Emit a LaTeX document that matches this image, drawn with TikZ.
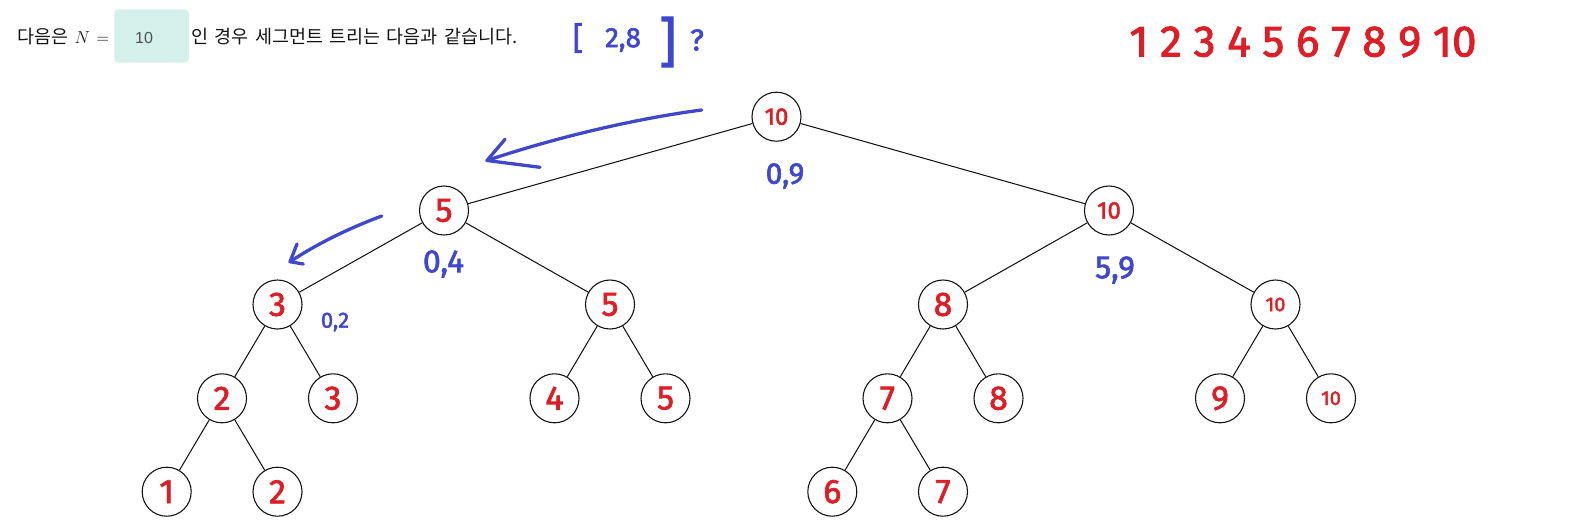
\documentclass[tikz,border=0pt]{standalone}
\usepackage{fontspec}
\newfontfamily\krfont[WordSpace=1.5]{Noto Sans CJK KR}
\newfontfamily\handfont[FakeBold=2]{Fira Sans}
\newfontfamily\arialfont{Liberation Sans}
\definecolor{hred}{RGB}{222,30,38}
\definecolor{hblue}{RGB}{63,72,204}
\definecolor{boxteal}{RGB}{211,240,234}
\definecolor{inkgray}{RGB}{20,20,20}
\definecolor{numgray}{RGB}{80,80,80}
\newcommand{\fsz}[1]{\fontsize{#1}{#1}\selectfont}
\tikzset{
  tn/.style={circle, draw=inkgray, line width=1.1pt, minimum size=49pt, inner sep=0pt,
    text=hred, font=\handfont\fsz{34}},
  tnsmall/.style={tn, font=\handfont\fsz{24}},
  tntiny/.style={tn, font=\handfont\fsz{20}},
  edge/.style={draw=inkgray, line width=1.05pt},
  bluelbl/.style={text=hblue, inner sep=0pt, font=\handfont\fsz{30}},
  bluestroke/.style={draw=hblue, line width=3.3pt, line cap=round, line join=round},
  hdr/.style={text=inkgray, inner sep=0pt, anchor=base west, font=\krfont\fsz{18.5}},
}
\begin{document}
\begin{tikzpicture}[x=1pt, y=-1pt]
\useasboundingbox (0,0) rectangle (1578,531);

% header
\node[hdr] (h1) at (17.5,43.3) {다음은};
\node[text=inkgray, inner sep=0pt, anchor=base west, font=\fsz{16.5}] (hN) at (74.5,43.3) {$N$};
\node[text=inkgray, inner sep=0pt, anchor=base west, font=\fsz{16.5}] (heq) at (96.5,43.3) {$=$};
\node[fill=boxteal, rounded corners=4pt, minimum width=74.7pt, minimum height=53.4pt, inner sep=0pt] (hbox) at (151.65,36) {};
\node[text=numgray, inner sep=0pt, font=\arialfont\fsz{16}] (hten) at (144,37.5) {10};
\node[hdr] (h2) at (191.5,43.3) {인 경우 세그먼트 트리는 다음과 같습니다.};

% blue note at the top
\node[bluelbl, font=\handfont\fsz{32}] (q1) at (578,38) {[};
\node[bluelbl, font=\handfont\fsz{28}] (q2) at (623,40) {2,8};
\node[bluelbl, font=\handfont\fsz{54}] (q3) at (668,42) {]};
\node[bluelbl, font=\handfont\fsz{30}] (q4) at (697,40) {?};

% red row of values
\node[text=hred, inner sep=0pt, font=\handfont\fsz{44}] (vals) at (1303,42) {1 2 3 4 5 6 7 8 9 10};

% tree nodes
\node[tnsmall] (r) at (776.5,116.7) {10};
\node[tn] (a) at (444,210.5) {5};
\node[tnsmall] (b) at (1109,210.5) {10};
\node[tn] (aa) at (277.5,304.5) {3};
\node[tn] (ab) at (610,304.5) {5};
\node[tn] (ba) at (943,304.5) {8};
\node[tntiny] (bb) at (1275.5,304.5) {10};
\node[tn] (aaa) at (222,398.3) {2};
\node[tn] (aab) at (333,398.3) {3};
\node[tn] (aba) at (554.5,398.3) {4};
\node[tn] (abb) at (665.5,398.3) {5};
\node[tn] (baa) at (887.5,398.3) {7};
\node[tn] (bab) at (998.5,398.3) {8};
\node[tn] (bba) at (1220,398.3) {9};
\node[tntiny] (bbb) at (1331,398.3) {10};
\node[tn] (aaaa) at (166.7,491.7) {1};
\node[tn] (aaab) at (277.5,491.7) {2};
\node[tn] (baaa) at (832.3,491.7) {6};
\node[tn] (baab) at (943,491.7) {7};

% edges
\draw[edge] (r) -- (a);
\draw[edge] (r) -- (b);
\draw[edge] (a) -- (aa);
\draw[edge] (a) -- (ab);
\draw[edge] (b) -- (ba);
\draw[edge] (b) -- (bb);
\draw[edge] (aa) -- (aaa);
\draw[edge] (aa) -- (aab);
\draw[edge] (ab) -- (aba);
\draw[edge] (ab) -- (abb);
\draw[edge] (ba) -- (baa);
\draw[edge] (ba) -- (bab);
\draw[edge] (bb) -- (bba);
\draw[edge] (bb) -- (bbb);
\draw[edge] (aaa) -- (aaaa);
\draw[edge] (aaa) -- (aaab);
\draw[edge] (baa) -- (baaa);
\draw[edge] (baa) -- (baab);

% blue range labels
\node[bluelbl] (lr) at (785,176) {0,9};
\node[bluelbl, font=\handfont\fsz{32}] (la) at (443.5,264) {0,4};
\node[bluelbl, font=\handfont\fsz{22}] (laa) at (335,322) {0,2};
\node[bluelbl, font=\handfont\fsz{32}] (lb) at (1115,270) {5,9};

% blue arrows
\coordinate (a1s) at (701.7,110);
\coordinate (a1t) at (487,160.5);
\coordinate (a1u) at (505,139.3);
\coordinate (a1l) at (540,167.3);
\draw[bluestroke] (a1s) .. controls (640,118) and (560,136) .. (a1t);
\draw[bluestroke] (a1u) -- (a1t) -- (a1l);
\coordinate (a2s) at (381.7,216);
\coordinate (a2t) at (290,261.7);
\coordinate (a2u) at (297,244);
\coordinate (a2l) at (303.3,264);
\draw[bluestroke] (a2s) .. controls (350,228) and (320,242) .. (a2t);
\draw[bluestroke] (a2u) -- (a2t) -- (a2l);
\end{tikzpicture}
\end{document}
